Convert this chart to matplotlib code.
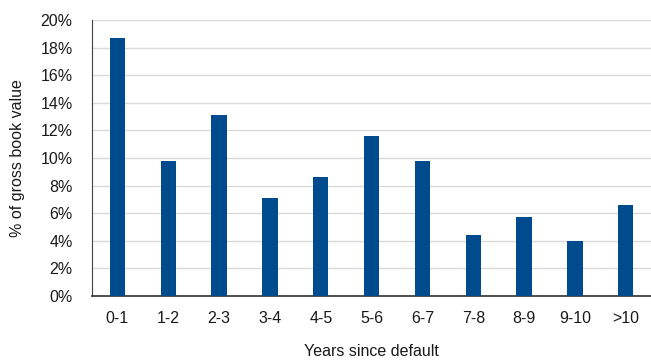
import matplotlib
matplotlib.use("Agg")
import matplotlib.pyplot as plt
import matplotlib.ticker as mticker

categories = ["0-1", "1-2", "2-3", "3-4", "4-5", "5-6", "6-7", "7-8", "8-9", "9-10", ">10"]
share_pct = [18.7, 9.8, 13.1, 7.1, 8.6, 11.6, 9.8, 4.4, 5.7, 4.0, 6.6]

plt.rcParams["font.family"] = ["Liberation Sans", "DejaVu Sans"]

fig = plt.figure(figsize=(6.51, 3.6), dpi=100)
ax = fig.add_axes([0.1413, 0.178, 0.859, 0.766])

x = range(len(categories))
ax.bar(x, share_pct, width=0.3, color="#004B8D", zorder=3)

ax.set_xlim(-0.5, len(categories) - 0.5)
ax.set_ylim(0, 20)
ax.yaxis.set_major_locator(mticker.MultipleLocator(2))
ax.yaxis.set_major_formatter(mticker.FuncFormatter(lambda v, _: f"{v:.0f}%"))
ax.set_xticks(list(x))
ax.set_xticklabels(categories)

ax.grid(axis="y", color="#d9d9d9", linewidth=1.0, zorder=0)
for side in ("top", "right"):
    ax.spines[side].set_visible(False)
ax.spines["left"].set_color("#404040")
ax.spines["bottom"].set_color("#303030")
ax.spines["bottom"].set_linewidth(1.2)
ax.tick_params(axis="both", length=0, labelsize=11.5, colors="#1a1a1a")
ax.tick_params(axis="x", pad=11)
ax.tick_params(axis="y", pad=14)

ax.set_xlabel("Years since default", fontsize=11.5, labelpad=13, color="#1a1a1a")
ax.set_ylabel("% of gross book value", fontsize=11.5, labelpad=11, color="#1a1a1a")

fig.savefig("out.png", dpi=100)
